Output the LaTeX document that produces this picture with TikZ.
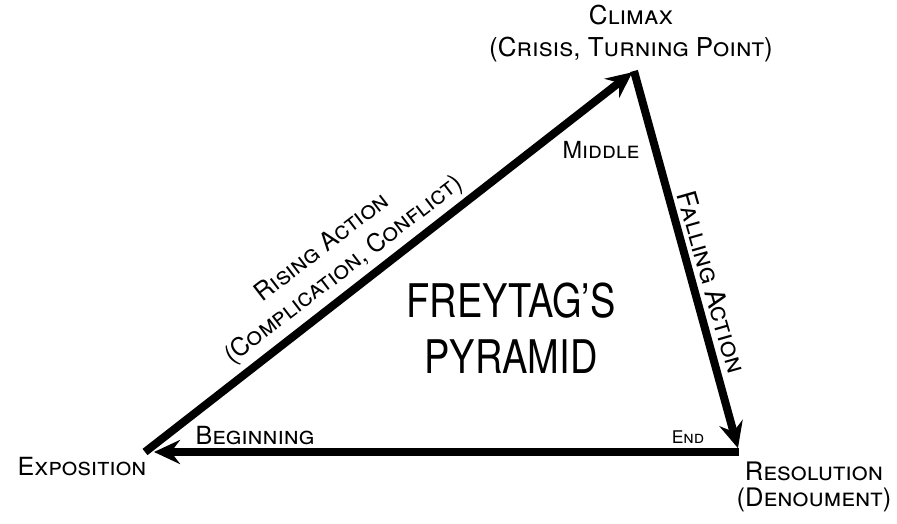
\documentclass[tikz,border=0pt]{standalone}
\usepackage{fontspec}
\setmainfont{TeX Gyre Heros}
\usetikzlibrary{arrows.meta}
\begin{document}
\begin{tikzpicture}[x=1pt,y=-1pt,
  arrowline/.style={line width=8pt,-{Stealth[length=26pt,width=24pt,inset=9pt]}},
  lab/.style={font=\fontsize{25}{32}\selectfont\scshape, inner sep=0pt, align=center},
  titletext/.style={font=\fontsize{38}{46}\selectfont, inner sep=0pt, align=center, yscale=1.22, transform shape},
]
\useasboundingbox[fill=white] (0,0) rectangle (897,524);
\coordinate (E) at (145,452);
\coordinate (C) at (634,71);
\coordinate (R) at (739,452);
\draw[arrowline, shorten >=2pt] (E) -- (C);
\draw[arrowline, shorten >=4pt] (C) -- (R);
\draw[arrowline, shorten >=9pt] (R) -- (E);

\node[lab, font=\fontsize{26}{32}\selectfont\scshape] (climax) at (631,34) {Climax\\(Crisis, Turning Point)};
\node[lab, font=\fontsize{23.5}{26}\selectfont\scshape] (middle) at (601,150) {Middle};
\node[lab, font=\fontsize{27}{32}\selectfont\scshape, rotate=-74] (falling) at (712,282) {Falling Action};
\node[lab, rotate=37.5] (rising) at (321,246) {Rising Action};
\node[lab, rotate=37.5] (risingsub) at (344,270) {(Complication, Conflict)};
\node[titletext] (title) at (511,328) {FREYTAG'S\\PYRAMID};
\node[lab] (begin) at (255,436) {Beginning};
\node[lab, font=\fontsize{17.5}{24}\selectfont\scshape] (end) at (688,437) {End};
\node[lab] (expo) at (82,467) {Exposition};
\node[lab, font=\fontsize{25.5}{26}\selectfont\scshape] (resol) at (814,487) {Resolution\\(Denoument)};
\end{tikzpicture}
\end{document}
